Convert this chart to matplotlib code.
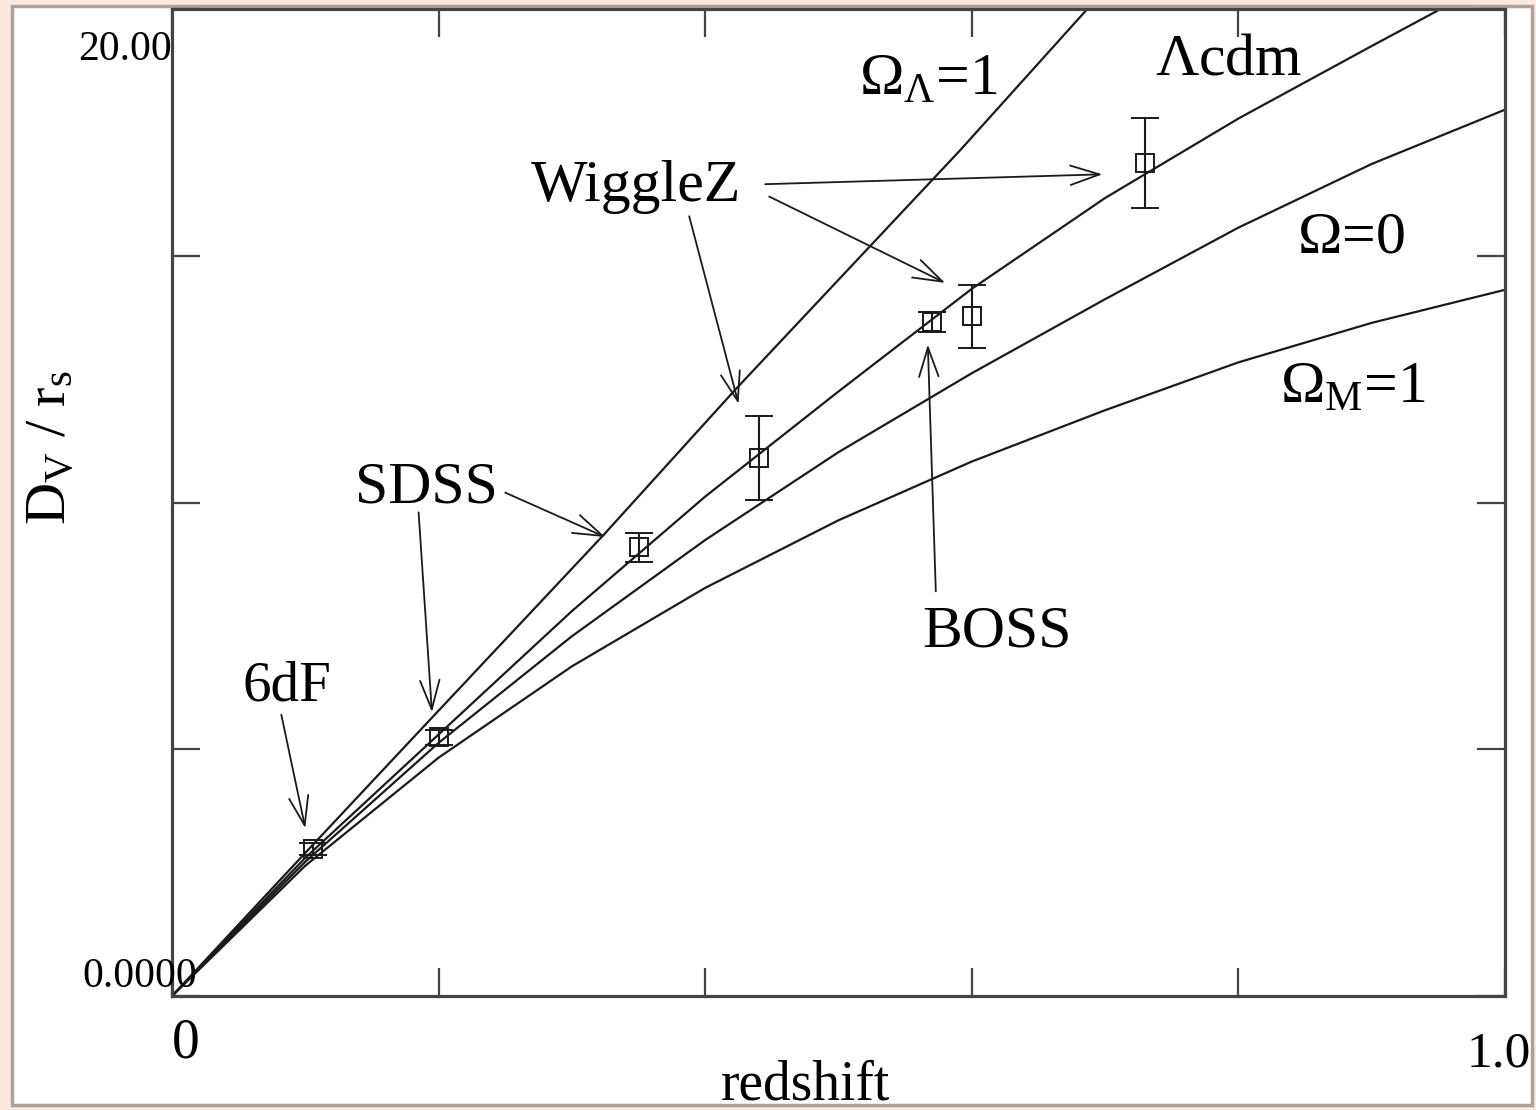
import matplotlib.pyplot as plt
from matplotlib.patches import Rectangle

plt.rcParams['font.family'] = ['Liberation Serif', 'DejaVu Serif']
plt.rcParams['mathtext.fontset'] = 'custom'
plt.rcParams['mathtext.rm'] = 'Liberation Serif'
plt.rcParams['mathtext.it'] = 'Liberation Serif'

# model curves
z_lam1 = [0, 0.1, 0.186, 0.324, 0.422, 0.591, 0.686]
d_lam1 = [0, 2.90, 5.38, 9.35, 12.27, 17.13, 19.98]

z_lcdm = [0, 0.1, 0.2, 0.3, 0.4, 0.5, 0.6, 0.7, 0.8, 0.9, 0.949]
d_lcdm = [0, 2.80, 5.30, 7.80, 10.12, 12.25, 14.33, 16.17, 17.78, 19.25, 19.96]

z_om0 = [0, 0.1, 0.2, 0.3, 0.4, 0.5, 0.6, 0.7, 0.8, 0.9, 1.0]
d_om0 = [0, 2.72, 5.13, 7.29, 9.24, 11.02, 12.62, 14.12, 15.57, 16.86, 17.96]

z_omm1 = [0, 0.1, 0.2, 0.3, 0.4, 0.5, 0.6, 0.7, 0.8, 0.9, 1.0]
d_omm1 = [0, 2.64, 4.83, 6.68, 8.27, 9.64, 10.83, 11.87, 12.84, 13.64, 14.31]

# BAO measurements
z_dat = [0.106, 0.2, 0.35, 0.44, 0.57, 0.6, 0.73]
d_dat = [2.98, 5.24, 9.09, 10.91, 13.66, 13.77, 16.88]
e_dat = [0.13, 0.15, 0.30, 0.85, 0.20, 0.64, 0.91]

fig = plt.figure(figsize=(15.36, 11.10), dpi=100)
fig.patch.set_facecolor('#fde9dc')
fig.patches.append(Rectangle((12 / 1536, 5 / 1110), 1520 / 1536, 1099 / 1110,
                             transform=fig.transFigure, facecolor='white',
                             edgecolor='#a8a39e', linewidth=2.5, zorder=-5))

ax = fig.add_axes([172 / 1536, 114 / 1110, 1333 / 1536, 987 / 1110])
ax.set_facecolor('white')
ax.set_zorder(2)

lc = '#1a1a1a'
for zz, dd in [(z_lam1, d_lam1), (z_lcdm, d_lcdm), (z_om0, d_om0), (z_omm1, d_omm1)]:
    ax.plot(zz, dd, color=lc, lw=1.6)

ax.errorbar(z_dat, d_dat, yerr=e_dat, fmt='s', mfc='none', mec=lc, ms=13,
            mew=1.4, ecolor=lc, elinewidth=1.5, capsize=10, capthick=1.5)

ax.set_xlim(0, 1.0)
ax.set_ylim(0, 20)
ax.set_xticks([0, 0.2, 0.4, 0.6, 0.8, 1.0])
ax.set_yticks([0, 5, 10, 15, 20])
ax.set_xticklabels([])
ax.set_yticklabels([])
ax.tick_params(direction='in', length=20, width=1.6, color='#444444',
               top=True, right=True)
for s in ax.spines.values():
    s.set_linewidth(2.3)
    s.set_color('#444444')

# tick labels as drawn in the original
ax.text(0.010, -0.022, '0', transform=ax.transAxes, fontsize=40,
        ha='center', va='top', clip_on=False)
ax.text(0.995, -0.035, '1.0', transform=ax.transAxes, fontsize=37,
        ha='center', va='top', clip_on=False)
ax.text(0.019, 0.0, '0.0000', transform=ax.transAxes, fontsize=30,
        ha='right', va='bottom', clip_on=False)
ax.text(0.0, 0.978, '20.00', transform=ax.transAxes, fontsize=30,
        ha='right', va='top', clip_on=False)

fig.text(805 / 1536, 1 - 1086 / 1110, 'redshift', fontsize=40,
         ha='center', va='center')
fig.text(52 / 1536, 1 - 447 / 1110, r'D$_\mathregular{V}$ / r$_\mathregular{s}$',
         fontsize=42, rotation=90, ha='center', va='center')

fs = 43
ax.text(0.567, 18.55, r'$\Omega_\Lambda$=1', fontsize=fs, ha='center', va='center')
ax.text(0.793, 18.95, r'$\Lambda$cdm', fontsize=fs, ha='center', va='center')
ax.text(0.348, 16.4, 'WiggleZ', fontsize=fs, ha='center', va='center')
ax.text(0.884, 15.35, r'$\Omega$=0', fontsize=fs, ha='center', va='center')
ax.text(0.886, 12.3, r'$\Omega_\mathregular{M}$=1', fontsize=fs, ha='center', va='center')
ax.text(0.191, 10.28, 'SDSS', fontsize=fs, ha='center', va='center')
ax.text(0.619, 7.37, 'BOSS', fontsize=fs, ha='center', va='center')
ax.text(0.086, 6.27, '6dF', fontsize=41, ha='center', va='center')

arr = dict(arrowstyle='->, head_length=2.1, head_width=0.7', color=lc, lw=1.3,
           shrinkA=0, shrinkB=0)
for (x0, y0), (x1, y1) in [
        ((0.082, 5.7), (0.100, 3.4)),
        ((0.185, 9.8), (0.195, 5.75)),
        ((0.250, 10.2), (0.325, 9.3)),
        ((0.388, 15.8), (0.425, 12.0)),
        ((0.445, 16.45), (0.698, 16.65)),
        ((0.448, 16.2), (0.580, 14.45)),
        ((0.573, 8.2), (0.567, 13.2))]:
    ax.annotate('', xy=(x1, y1), xytext=(x0, y0), arrowprops=arr)

fig.savefig('out.png', dpi=100, facecolor=fig.get_facecolor())
